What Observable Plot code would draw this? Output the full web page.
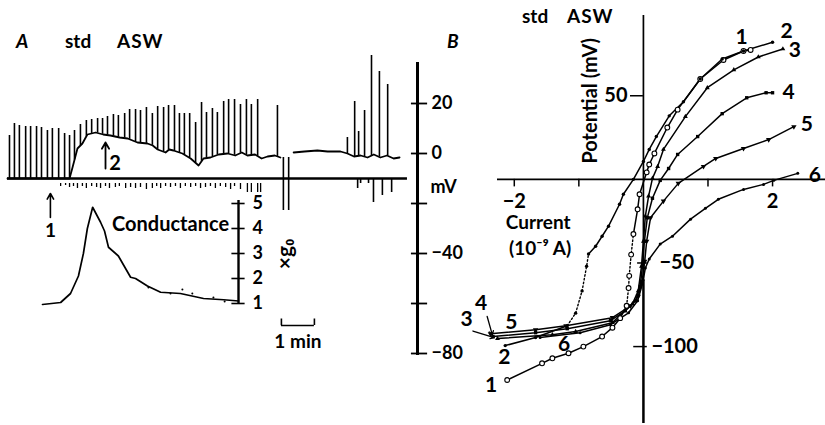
<!DOCTYPE html>
<html>
<head>
<meta charset="utf-8">
<script src="https://cdn.jsdelivr.net/npm/d3@7"></script>
<script src="https://cdn.jsdelivr.net/npm/@observablehq/plot@0.6"></script>
<style>
html,body{margin:0;padding:0;background:#fff;}
#fig{position:relative;width:825px;height:425px;overflow:hidden;font-family:Lato,'Open Sans',sans-serif;color:#000;}
#fig svg{position:absolute;left:0;top:0;}
.hd{position:absolute;font-size:19px;font-weight:700;line-height:19px;white-space:nowrap;}
</style>
</head>
<body>
<div id="fig">
  <div class="hd" style="left:16px;top:31px;font-style:italic">A</div>
  <div class="hd" style="left:65px;top:31px">std</div>
  <div class="hd" style="left:117px;top:31px;letter-spacing:1px">ASW</div>
  <div class="hd" style="left:447px;top:31px;font-style:italic">B</div>
  <div class="hd" style="left:522px;top:6px">std</div>
  <div class="hd" style="left:567px;top:6px;letter-spacing:1px">ASW</div>
</div>
<script>
// ================= DATA =================
// Panel A – membrane potential record (time in min from start, potential in mV)
const traceT = [0,1.88,1.97,2.12,2.27,2.42,2.67,2.9,3.12,3.4,3.64,3.94,4.24,4.4,4.55,4.79,4.9,5.03,5.3,5.55,5.79,5.94,6.15,6.4,6.67,6.9,7.1,7.27,7.5,7.7,7.88,8.1,8.27,8.4,8.67,9.0,9.39,9.7,10.09,10.3,10.5,10.7,10.91,11.1,11.3,11.5,11.7,11.88];
const traceV = [-10,-10,-5.6,2,4,7.6,8.4,7.6,7.2,6.4,6,4.4,4,3.2,1.6,0.4,1.6,1.2,0,-2,-4.8,-2,-1.6,-0.4,0,-0.8,0.4,-0.8,-0.4,-2,-1.2,-0.8,-1.6,NaN,0.4,0.8,1.2,0.8,0.8,0,-1.2,-0.8,-1.6,-0.4,-1.6,-0.8,-2,-1.6];
// action potential peaks
const spikeT = [0.06,0.21,0.36,0.55,0.70,0.88,1.03,1.21,1.36,1.55,1.73,1.88,
  2.03,2.21,2.39,2.55,2.73,2.88,3.03,3.21,3.36,3.55,3.70,3.88,4.03,4.21,4.39,4.55,4.73,4.88,5.06,5.21,5.36,5.52,5.70,5.88,6.03,6.21,6.36,6.55,6.70,6.88,7.06,7.24,7.39,7.58,8.18,
  10.30,10.52,10.64,10.82,11.03,11.27,11.52];
const spikeV = [7.2,12,11.2,10.8,10.8,10.8,10.4,9.2,10,10,8,7.2,
  9.2,11.6,13.2,13.6,14,14,14.8,15.6,15.2,16,17.6,17.6,17.2,18.4,16,18.8,18.4,19.2,19.2,16,16,16,12.4,20.4,16.4,18,16.4,20.8,21.6,21.6,19.6,21.6,19.6,21.6,19.2,
  6.4,20.8,8.8,17.2,39.2,32.8,27.6];
// small hyperpolarizing pulse marks below the baseline
const pulseT = [1.61,1.76,1.88,2.0,2.12,2.27,2.39,2.55,2.7,2.82,2.97,3.09,3.27,3.39,3.58,3.73,3.88,4.03,4.21,4.39,4.52,4.64,4.79,4.94,5.09,5.24,5.39,5.55,5.7,5.85,6.0,6.15,6.3,6.45,6.61,6.76,6.88,7.06,7.27,7.39,7.58,7.67];
const pulseV = [-13.2,-12.8,-13.6,-13.2,-14,-13.2,-14,-13.2,-13.6,-14,-13.2,-14,-13.6,-13.2,-14,-13.6,-14,-13.6,-14.4,-14,-13.2,-14,-13.2,-13.6,-13.2,-14,-13.2,-13.6,-13.2,-14,-13.6,-13.2,-14,-13.2,-13.6,-14.4,-13.2,-14.4,-15.6,-15.6,-15.6,-15.6];
// larger downward deflections
const downT   = [8.36,8.52,10.61,10.7,10.94,11.09,11.36,11.64];
const downTop = [-1.6,-1.6,-10,-10,-10,-10,-10,-10];
const downV   = [-22.8,-22.8,-14,-12,-12,-19.6,-16.8,-15.6];
const baselineV = -10;
const mvTicks = [-80,-60,-40,-20,0,20];
const mvLabels = [20,0,-40,-80];

// Panel A – conductance (multiples of g0)
const condT = [1.06,1.61,1.91,2.15,2.30,2.42,2.58,2.82,2.94,3.06,3.36,3.73,3.88,4.24,4.64,5.24,5.94,6.55,7.0];
const condG = [0.96,1.04,1.4,2.1,3.0,4.0,4.85,4.25,3.9,3.25,2.9,2.05,2.0,1.7,1.45,1.4,1.2,1.15,1.1];
const condDotT = [4.27,4.94,5.3,5.6,6.24,6.58];
const condDotG = [1.64,1.4,1.56,1.4,1.24,1.08];
const gTicks = [1,2,3,4,5];

// Panel B – current (10^-9 A) vs potential (mV), curves 1–6
const c1Lower = [[-2.11,-120],[-1.57,-110],[-1.41,-107],[-1.16,-104],[-0.93,-100],[-0.64,-94],[-0.48,-88.7],[-0.36,-83],[-0.26,-75.6]];
const c1Jump  = [[-0.26,-75.6],[-0.23,-65],[-0.22,-57.7],[-0.19,-45],[-0.155,-32.7]];
const c1Upper = [[-0.155,-32.7],[-0.09,-17.9],[-0.06,-8.9],[0.05,4.2],[0.09,8.9],[0.17,15.5],[0.37,31],[0.53,41.7],[0.88,60],[1.24,71.4],[1.55,76.8],[1.66,77.4]];
const c2Lower = [[-2.14,-99.4],[-1.67,-94.6],[-1.18,-87.5]];
const c2Jump  = [[-1.18,-87.5],[-1.05,-80],[-0.95,-66.7],[-0.88,-52],[-0.85,-44.6]];
const c2Upper = [[-0.85,-44.6],[-0.74,-40],[-0.64,-34],[-0.54,-28],[-0.37,-14.9],[-0.31,-8.9],[-0.155,0],[0,10.7],[0.09,17.9],[0.2,25.6],[0.4,38],[0.62,46.4],[0.88,60],[1.22,72],[1.55,76.8],[2.0,82]];
const c3 = [[-2.26,-95.2],[-1.41,-92.9],[-1.05,-91],[-0.48,-85.7],[-0.17,-74.4],[-0.08,-66.7],[-0.03,-52],[0,-37],[0.03,-22],[0.08,-10],[0.14,0.6],[0.22,7.7],[0.31,17.9],[0.65,37.5],[0.99,54.8],[1.4,65.5],[1.78,73.2],[2.16,78]];
const c4 = [[-2.33,-94],[-1.67,-91.7],[-1.18,-89.3],[-0.51,-84.5],[-0.28,-78.6],[-0.12,-72.6],[-0.05,-64],[-0.015,-52],[0.015,-37],[0.06,-23],[0.14,-11.3],[0.26,-0.6],[0.39,6.5],[0.53,14.9],[0.84,25.6],[1.22,39.3],[1.6,48.8],[1.9,51.8],[2.0,51.8]];
const c5 = [[-2.37,-92.3],[-1.67,-90],[-1.2,-87.5],[-0.48,-82.7],[-0.2,-75.6],[-0.08,-70],[-0.02,-61],[0.02,-49],[0.05,-37],[0.11,-23],[0.31,-13],[0.54,-2.4],[0.93,7.7],[1.12,12.5],[1.55,18.5],[1.94,23.8],[2.33,31.5]];
const c6 = [[-1.6,-94.5],[-0.98,-91.7],[-0.51,-86.9],[-0.23,-79.8],[-0.09,-72.6],[-0.015,-62.5],[0.03,-53],[0.09,-47.6],[0.26,-38.7],[0.45,-34],[0.73,-23.8],[0.96,-17.3],[1.16,-11.9],[1.55,-6],[1.86,-3],[2.02,-0.6],[2.39,3.6]];
const ivXTicks = [-2,-1,1,2];
const ivXLabels = [-2,2];

// ================= DRAWING =================
const W = 825, H = 425;
const FONT = "Lato, 'Open Sans', sans-serif";
const fig = document.getElementById("fig");
const style = {background:"transparent", overflow:"visible", fontFamily:FONT, fontWeight:700, color:"black"};
const fmt = v => (v < 0 ? "\u2212" + Math.abs(v) : String(v));
const zip = (a, b) => a.map((x, i) => ({x, y: b[i]}));
const txt = (s, x, y, o = {}) => Plot.text([s], {x, y, text: d => d, fontSize: 17, fontWeight: 700, fill: "black", ...o});

// ---- Panel A: potential trace
const trace = zip(traceT, traceV);
const valid = trace.filter(d => !isNaN(d.y));
const traceAt = t => {
  if (t <= valid[0].x) return valid[0].y;
  for (let i = 1; i < valid.length; i++) {
    if (t <= valid[i].x) {
      const a = valid[i-1], b = valid[i];
      return a.y + (b.y - a.y) * (t - a.x) / (b.x - a.x);
    }
  }
  return valid[valid.length-1].y;
};
const spikes = zip(spikeT, spikeV).map(d => ({...d, base: traceAt(d.x)}));
const pulses = zip(pulseT, pulseV);
const downs = downT.map((t, i) => ({x: t, top: downTop[i], y: downV[i]}));
const tAxis = 12.424;   // position of the mV axis on the time scale
const tEnd = 12.12;

const plotA = Plot.plot({
  width: W, height: H, marginLeft: 7, marginRight: 408, marginTop: 62, marginBottom: 70,
  x: {domain: [0, tAxis], axis: null},
  y: {domain: [-80.8, 36.4], axis: null},
  style,
  marks: [
    Plot.ruleY([baselineV], {x1: 0, x2: tEnd, strokeWidth: 2.6}),
    Plot.line(trace, {x: "x", y: "y", strokeWidth: 1.8}),
    Plot.ruleX(spikes, {x: "x", y1: "base", y2: "y", strokeWidth: 1.6}),
    Plot.ruleX(pulses, {x: "x", y1: -12, y2: "y", strokeWidth: 1.3}),
    Plot.ruleX(downs, {x: "x", y1: "top", y2: "y", strokeWidth: 1.6}),
    // mV axis
    Plot.ruleX([tAxis], {y1: -80.8, y2: 36.4, strokeWidth: 3}),
    Plot.ruleY(mvTicks, {x1: 12.24, x2: 12.73, strokeWidth: 1.8}),
    Plot.text(mvLabels, {x: tAxis, y: d => d, text: fmt, dx: 14, textAnchor: "start", fontSize: 18, fontWeight: 700}),
    txt("mV", tAxis, -13.6, {dx: 13, textAnchor: "start", fontSize: 18}),
    // arrows 1 and 2
    Plot.arrow([0], {x1: 1.30, y1: -25.6, x2: 1.30, y2: -16, strokeWidth: 1.6, headLength: 6}),
    txt("1", 1.30, -31, {fontSize: 19}),
    Plot.arrow([0], {x1: 2.97, y1: -6, x2: 2.97, y2: 4.4, strokeWidth: 1.8, headLength: 6}),
    txt("2", 3.26, -4.2, {fontSize: 20}),
    // 1 min scale bar
    Plot.ruleY([-68.8], {x1: 8.3, x2: 9.3, strokeWidth: 1.6}),
    Plot.ruleX([8.3, 9.3], {y1: -68.8, y2: -66.2, strokeWidth: 1.6}),
    txt("1 min", 8.8, -75.4, {fontSize: 19})
  ]
});
fig.appendChild(plotA);

// ---- Panel A: conductance
const tG = 7.0;
const plotG = Plot.plot({
  width: W, height: H, marginLeft: 7, marginRight: 408, marginTop: 203, marginBottom: 122,
  x: {domain: [0, tAxis], axis: null},
  y: {domain: [1, 5], axis: null},
  style,
  marks: [
    Plot.line(zip(condT, condG), {x: "x", y: "y", strokeWidth: 1.7}),
    Plot.dot(zip(condDotT, condDotG), {x: "x", y: "y", r: 1, fill: "black"}),
    Plot.ruleX([tG], {y1: 1, y2: 5.12, strokeWidth: 2.4}),
    Plot.ruleY(gTicks, {x1: 6.8, x2: 7.2, strokeWidth: 1.6}),
    Plot.text(gTicks, {x: tG, y: d => d, text: d => String(d), dx: 14, textAnchor: "start", fontSize: 18, fontWeight: 700}),
    txt("Conductance", 4.94, 4.16, {fontSize: 20}),
    txt("\u00d7g\u2080", 8.42, 2.98, {rotate: -90, fontSize: 21})
  ]
});
fig.appendChild(plotG);

// ---- Panel B: current–voltage relations
const rows = a => a.map(([x, y]) => ({x, y}));
const lineW = 1.5;
const curvesSolid = [c1Lower, c1Upper, c2Lower, c2Upper, c3, c4, c5, c6];
const curvesDotted = [c1Jump, c2Jump];
const labelTop = [[c1Upper, "1", -9, -13], [c2Upper, "2", 14, -11], [c3, "3", 12, 1], [c4, "4", 16, 0], [c5, "5", 13, -2], [c6, "6", 17, 2]];
const labelBot = [[c1Lower, "1", -16, 5], [c2Lower, "2", -1, 12], [c3, "3", -31, -19], [c4, "4", -12, -33], [c5, "5", 21, -11], [c6, "6", 24, 7]];
const first = a => a[0], last = a => a[a.length - 1];

const bMarks = [
  Plot.ruleY([0], {strokeWidth: 1.6}),
  Plot.ruleX([0], {y1: -60, y2: 98, strokeWidth: 1.7}),
  Plot.ruleX([0], {y1: -146, y2: -60, strokeWidth: 2.5}),
  Plot.ruleX(ivXTicks, {y1: 0, y2: -4.5, strokeWidth: 1.5}),
  Plot.text(ivXLabels, {x: d => d, y: -13.5, text: fmt, fontSize: 20, fontWeight: 700}),
  Plot.ruleY([50], {x1: -0.2, x2: 0, strokeWidth: 1.5}),
  Plot.ruleY([-50], {x1: -0.09, x2: 0.06, strokeWidth: 1.5}),
  Plot.ruleY([-100], {x1: -0.15, x2: 0.06, strokeWidth: 1.5}),
  txt("50", -0.2, 50, {textAnchor: "end", dx: -3, fontSize: 20}),
  txt("\u221250", 0, -50, {textAnchor: "start", dx: 16, fontSize: 20}),
  txt("\u2212100", 0, -100, {textAnchor: "start", dx: 8, fontSize: 20}),
  txt("Potential (mV)", -0.82, 47, {rotate: -90, fontSize: 20}),
  txt("Current", -1.63, -26, {fontSize: 19}),
  txt("(10\u207b\u2079 A)", -1.6, -41.5, {fontSize: 19}),
  ...curvesSolid.map(c => Plot.line(rows(c), {x: "x", y: "y", strokeWidth: lineW})),
  ...curvesDotted.map(c => Plot.line(rows(c), {x: "x", y: "y", strokeWidth: 1.4, strokeDasharray: "1.6,2.2"})),
  Plot.dot(rows([...c1Lower, ...c1Jump.slice(1), ...c1Upper.slice(1)]), {x: "x", y: "y", r: 2.4, stroke: "black", fill: "white", strokeWidth: 1.1}),
  Plot.dot(rows([...c2Lower, ...c2Jump.slice(1), ...c2Upper.slice(1)]), {x: "x", y: "y", r: 1.7, fill: "black"}),
  Plot.dot(rows(c3), {x: "x", y: "y", r: 1.8, symbol: "triangle", fill: "black"}),
  Plot.dot(rows(c4), {x: "x", y: "y", r: 1.9, symbol: "square", fill: "black"}),
  Plot.dot(rows(c5), {x: "x", y: "y", r: 2, symbol: "triangle", rotate: 180, fill: "black"}),
  Plot.dot(rows(c6), {x: "x", y: "y", r: 1.5, fill: "black"}),
  ...labelTop.map(([c, s, dx, dy]) => txt(s, last(c)[0], last(c)[1], {dx, dy, fontSize: 21})),
  ...labelBot.map(([c, s, dx, dy]) => txt(s, first(c)[0], first(c)[1], {dx, dy, fontSize: 21})),
  Plot.arrow([c4], {x1: c => first(c)[0] - 0.09, y1: c => first(c)[1] + 12, x2: c => first(c)[0] - 0.01, y2: c => first(c)[1] + 1, strokeWidth: 1.3, headLength: 5}),
  Plot.arrow([c3], {x1: c => first(c)[0] - 0.38, y1: c => first(c)[1] + 4.5, x2: c => first(c)[0] - 0.05, y2: c => first(c)[1] + 0.5, strokeWidth: 1.3, headLength: 5})
];

const plotB = Plot.plot({
  width: W, height: H, marginLeft: 497, marginRight: 0, marginTop: 15, marginBottom: 2,
  x: {domain: [-2.26, 2.82], axis: null},
  y: {domain: [-146, 98], axis: null},
  style,
  marks: bMarks
});
fig.appendChild(plotB);
</script>
</body>
</html>
